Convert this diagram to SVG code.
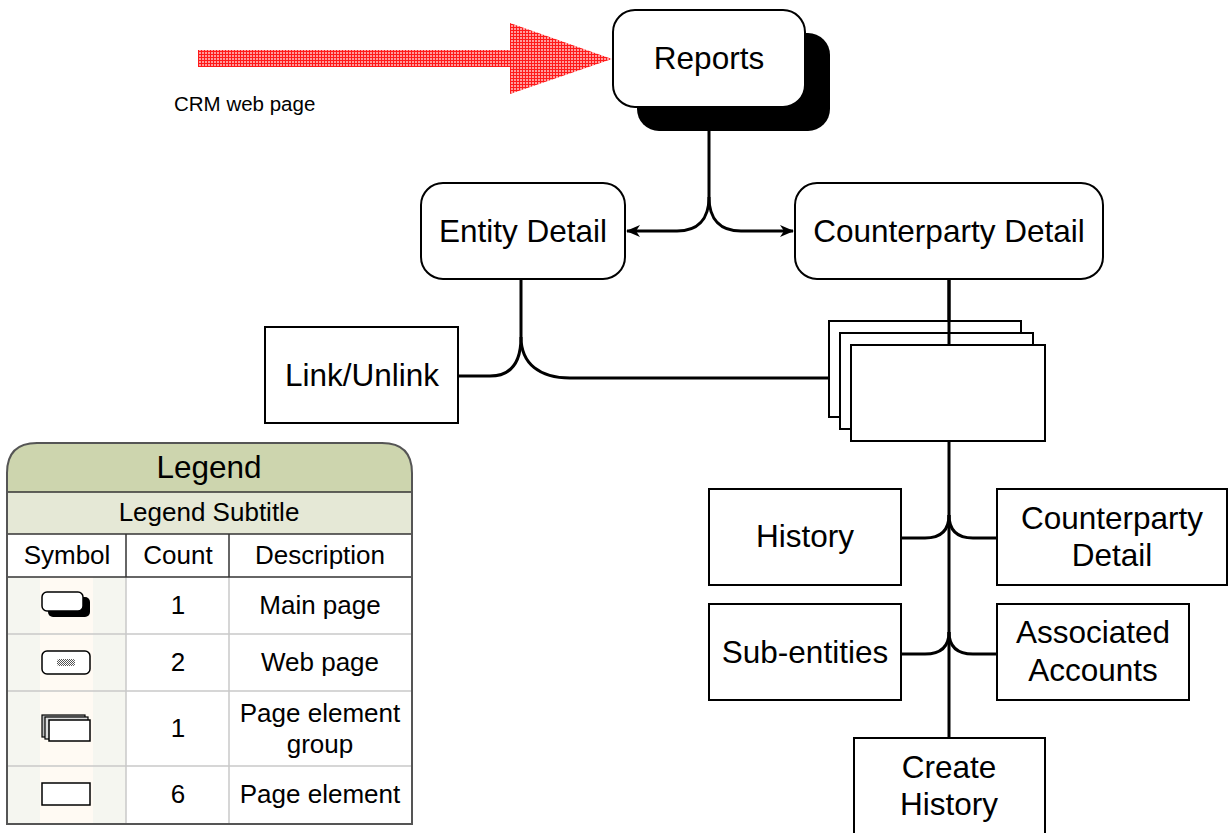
<svg xmlns="http://www.w3.org/2000/svg" width="1231" height="833" viewBox="0 0 1231 833">
  <defs>
    <!-- fine red cross-hatch used by the incoming arrow -->
    <pattern id="redGrid" width="3" height="3" patternUnits="userSpaceOnUse">
      <rect width="3" height="3" fill="#ff9c9c"/>
      <path d="M0.5,0 V3 M0,0.5 H3" stroke="#ff1a1a" stroke-width="1"/>
    </pattern>
    <!-- dotted fill for the web page symbol -->
    <pattern id="dots" width="2" height="2" patternUnits="userSpaceOnUse">
      <rect width="2" height="2" fill="#ffffff"/>
      <rect width="1" height="1" fill="#555555"/>
      <rect x="1" y="1" width="1" height="1" fill="#555555"/>
    </pattern>
    <marker id="arrow" viewBox="0 0 14 12" refX="13" refY="6" markerWidth="14" markerHeight="12" markerUnits="userSpaceOnUse" orient="auto">
      <path d="M0,0 L14,6 L0,12 L4,6 Z" fill="#000"/>
    </marker>
  </defs>
  <style>
    .box { fill: #fff; stroke: #000; stroke-width: 2; }
    .label { font-family: "Liberation Sans", Arial, sans-serif; font-size: 31.5px; fill: #000; text-anchor: middle; }
    .small { font-family: "Liberation Sans", Arial, sans-serif; font-size: 20.5px; fill: #000; }
    .conn { fill: none; stroke: #000; stroke-width: 3; }
    .lg { font-family: "Liberation Sans", Arial, sans-serif; font-size: 26px; fill: #000; text-anchor: middle; }
    .lgTitle { font-family: "Liberation Sans", Arial, sans-serif; font-size: 31.5px; fill: #000; text-anchor: middle; }
    .rowLine { stroke: #c8c8c8; stroke-width: 1.5; }
    .darkLine { stroke: #333; stroke-width: 1.5; }
    .sym { fill: #fff; stroke: #000; stroke-width: 1.5; }
  </style>

  <rect width="1231" height="833" fill="#fff"/>

  <!-- incoming arrow from the CRM web page -->
  <g id="crm-entry">
    <polygon points="198,50 510,50 510,23 612,59 510,94 510,67 198,67" fill="url(#redGrid)"/>
    <text class="small" x="174" y="111">CRM web page</text>
  </g>

  <!-- connectors -->
  <g id="connectors">
    <path class="conn" d="M709,107 V197 C709,220 697,231 677,231 H627" marker-end="url(#arrow)"/>
    <path class="conn" d="M709,197 C709,220 721,231 741,231 H793" marker-end="url(#arrow)"/>
    <path class="conn" d="M521,279 V337 C521,363 511,376 490,376 H458"/>
    <path class="conn" d="M521,337 C521,364 540,378 570,378 H841"/>
    <path class="conn" d="M949,279 V345"/>
    <path class="conn" d="M949,441 V738"/>
    <path class="conn" d="M949,515 C949,530 941,538 925,538 H901"/>
    <path class="conn" d="M949,515 C949,530 957,538 973,538 H997"/>
    <path class="conn" d="M949,632 C949,647 941,654 925,654 H901"/>
    <path class="conn" d="M949,632 C949,647 957,654 973,654 H997"/>
  </g>

  <g id="reports">
    <rect x="637" y="33" width="193" height="98" rx="22" fill="#000"/>
    <rect class="box" x="613" y="10" width="192" height="97" rx="22"/>
    <text class="label" x="709" y="69">Reports</text>
  </g>

  <g id="entity-detail">
    <rect class="box" x="421" y="183" width="204" height="96" rx="22"/>
    <text class="label" x="523" y="242">Entity Detail</text>
  </g>

  <g id="counterparty-detail">
    <rect class="box" x="795" y="183" width="308" height="96" rx="22"/>
    <text class="label" x="949" y="242">Counterparty Detail</text>
  </g>

  <g id="link-unlink">
    <rect class="box" x="265" y="327" width="193" height="96"/>
    <text class="label" x="362" y="386">Link/Unlink</text>
  </g>

  <g id="element-group">
    <rect class="box" x="829" y="321" width="192" height="96"/>
    <rect class="box" x="840" y="333" width="193" height="96"/>
    <rect class="box" x="851" y="345" width="194" height="96"/>
  </g>
  <!-- line from Counterparty Detail runs over the stacked page outlines -->
  <path class="conn" d="M949,279 V345"/>

  <g id="history">
    <rect class="box" x="709" y="489" width="192" height="96"/>
    <text class="label" x="805" y="547">History</text>
  </g>

  <g id="counterparty-detail-2">
    <rect class="box" x="997" y="489" width="230" height="96"/>
    <text class="label" x="1112" y="529">Counterparty</text>
    <text class="label" x="1112" y="566">Detail</text>
  </g>

  <g id="sub-entities">
    <rect class="box" x="709" y="604" width="192" height="96"/>
    <text class="label" x="805" y="663">Sub-entities</text>
  </g>

  <g id="associated-accounts">
    <rect class="box" x="997" y="604" width="192" height="96"/>
    <text class="label" x="1093" y="643">Associated</text>
    <text class="label" x="1093" y="681">Accounts</text>
  </g>

  <g id="create-history">
    <rect class="box" x="854" y="738" width="191" height="110"/>
    <text class="label" x="949" y="778">Create</text>
    <text class="label" x="949" y="815">History</text>
  </g>

  <!-- legend table -->
  <g id="legend">
    <path d="M7,492 V473 Q7,443 37,443 H382 Q412,443 412,473 V492 Z" fill="#cdd5ae"/>
    <rect x="7" y="492" width="405" height="42" fill="#e5e8d6"/>
    <rect x="7" y="534" width="405" height="43" fill="#fff"/>
    <rect x="7" y="577" width="405" height="247" fill="#fff"/>
    <rect x="7" y="577" width="119" height="247" fill="#f5f6f0"/>
    <rect x="40" y="577" width="53" height="247" fill="#fffaf3"/>

    <line class="rowLine" x1="7" y1="634" x2="412" y2="634"/>
    <line class="rowLine" x1="7" y1="691" x2="412" y2="691"/>
    <line class="rowLine" x1="7" y1="766" x2="412" y2="766"/>
    <line class="rowLine" x1="126" y1="577" x2="126" y2="824"/>
    <line class="rowLine" x1="229" y1="577" x2="229" y2="824"/>

    <line class="darkLine" x1="7" y1="492" x2="412" y2="492"/>
    <line class="darkLine" x1="7" y1="534" x2="412" y2="534"/>
    <line class="darkLine" x1="7" y1="577" x2="412" y2="577"/>
    <line class="darkLine" x1="126" y1="534" x2="126" y2="577"/>
    <line class="darkLine" x1="229" y1="534" x2="229" y2="577"/>

    <path d="M7,824 V473 Q7,443 37,443 H382 Q412,443 412,473 V824 Z" fill="none" stroke="#555" stroke-width="2"/>

    <text class="lgTitle" x="209" y="478">Legend</text>
    <text class="lg" x="209" y="521">Legend Subtitle</text>
    <text class="lg" x="67" y="564">Symbol</text>
    <text class="lg" x="178" y="564">Count</text>
    <text class="lg" x="320" y="564">Description</text>

    <!-- main page symbol -->
    <rect x="48" y="597" width="42" height="20" rx="5" fill="#000"/>
    <rect class="sym" x="42" y="592" width="41" height="19" rx="5"/>
    <text class="lg" x="178" y="614">1</text>
    <text class="lg" x="320" y="614">Main page</text>

    <!-- web page symbol -->
    <rect class="sym" x="42" y="651" width="48" height="23" rx="5"/>
    <rect x="57" y="659" width="18" height="7" rx="2" fill="url(#dots)"/>
    <text class="lg" x="178" y="671">2</text>
    <text class="lg" x="320" y="671">Web page</text>

    <!-- page element group symbol -->
    <rect x="42" y="715" width="43" height="22" fill="#bbb" stroke="#000" stroke-width="1.2"/>
    <rect x="45" y="717" width="43" height="22" fill="#ddd" stroke="#000" stroke-width="1.2"/>
    <rect class="sym" x="49" y="720" width="41" height="21"/>
    <text class="lg" x="178" y="737">1</text>
    <text class="lg" x="320" y="722">Page element</text>
    <text class="lg" x="320" y="753">group</text>

    <!-- page element symbol -->
    <rect class="sym" x="42" y="783" width="48" height="22"/>
    <text class="lg" x="178" y="803">6</text>
    <text class="lg" x="320" y="803">Page element</text>
  </g>
</svg>
